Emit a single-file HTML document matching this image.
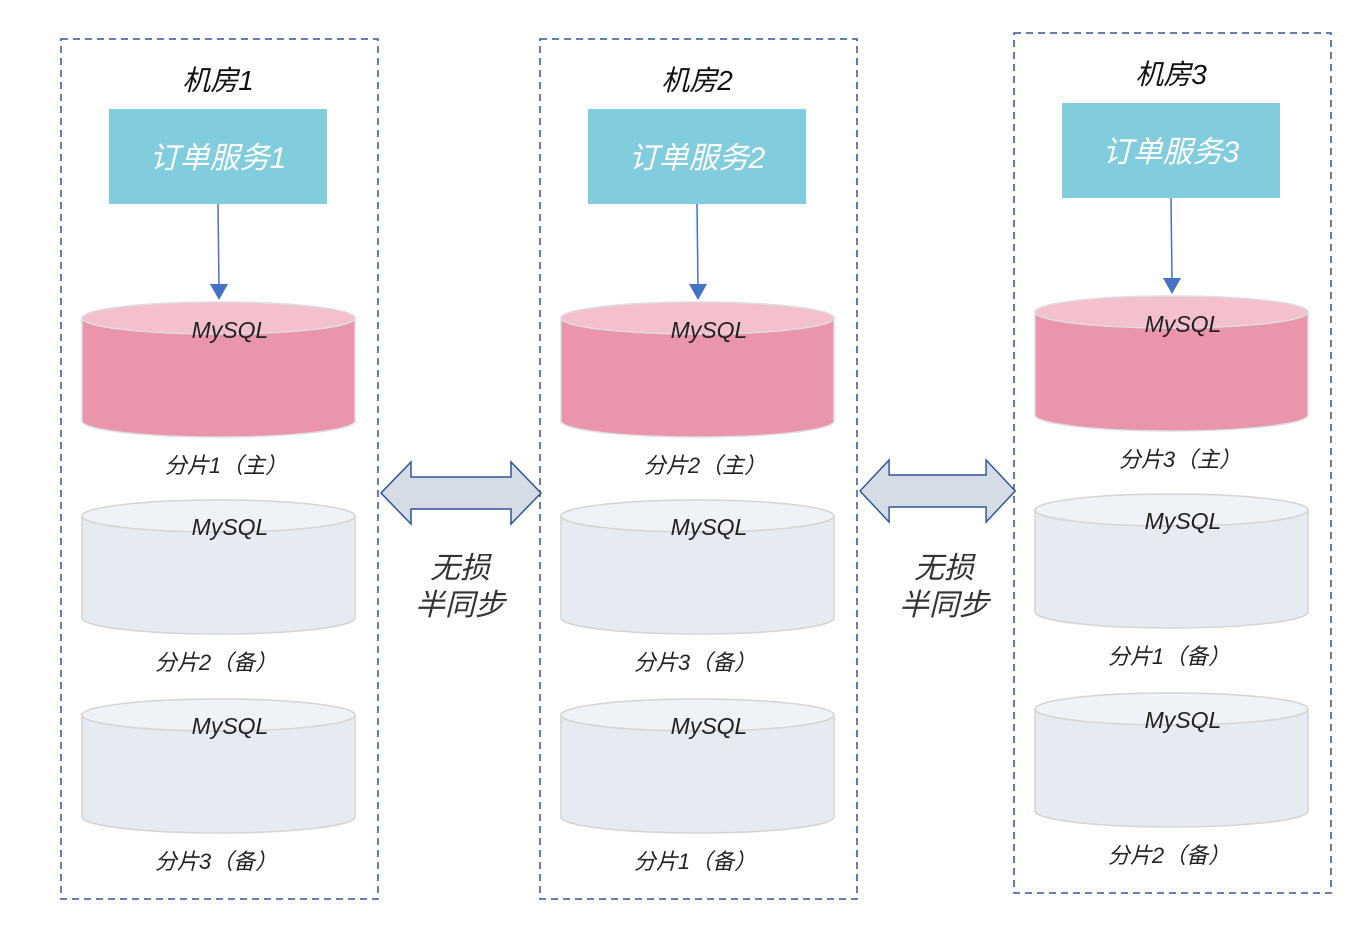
<!DOCTYPE html>
<html><head><meta charset="utf-8"><style>
html,body{margin:0;padding:0;background:#fff;}
svg text{font-family:"Liberation Sans","Noto Sans CJK SC",sans-serif;}
</style></head><body>
<svg width="1366" height="934" viewBox="0 0 1366 934" xmlns="http://www.w3.org/2000/svg">
<defs>
<g id="cylP">
  <path d="M82 318 L82 421 A136.5 16 0 0 0 355 421 L355 318 Z" fill="#ea95ab" stroke="#ddd" stroke-width="1.5"/>
  <ellipse cx="218.5" cy="318" rx="136.5" ry="16" fill="#f4c0cd" stroke="#ddd" stroke-width="1.5"/>
  <text x="230" y="338" font-size="23" font-style="italic" text-anchor="middle" fill="#222">MySQL</text>
</g>
<g id="cylG">
  <path d="M82 0 L82 102 A136.5 16 0 0 0 355 102 L355 0 Z" fill="#e6eaf1" stroke="#d4d4d4" stroke-width="1.5"/>
  <ellipse cx="218.5" cy="0" rx="136.5" ry="16" fill="#eff2f6" stroke="#d4d4d4" stroke-width="1.5"/>
  <text x="230" y="19" font-size="23" font-style="italic" text-anchor="middle" fill="#222">MySQL</text>
</g>
<g id="svc">
  <rect x="61" y="39" width="317" height="860" fill="none" stroke="#2f5597" stroke-width="1.5" stroke-dasharray="7,5"/>
  <rect x="109" y="109" width="218" height="95" fill="#82cddd"/>
  <line x1="218" y1="204" x2="219" y2="286" stroke="#4472c4" stroke-width="1.5"/>
  <polygon points="210,284 228,284 219,300" fill="#4472c4"/>
  <use href="#cylP"/>
  <use href="#cylG" y="516"/>
  <use href="#cylG" y="715"/>
</g>
<g id="dbl">
  <polygon points="0,0 30,-31 30,-16 130,-16 130,-31 160,0 130,31 130,16 30,16 30,31" fill="#d6dce5" stroke="#2f5597" stroke-width="1.5"/>
</g>
</defs>

<use href="#svc"/>
<use href="#svc" x="479"/>
<use href="#svc" x="953" y="-6"/>

<g font-size="28" font-style="italic" text-anchor="middle" fill="#111">
<text x="218" y="90">机房1</text>
<text x="697" y="90">机房2</text>
<text x="1171" y="84">机房3</text>
</g>
<g font-size="30" text-anchor="middle" fill="#fff" font-style="italic">
<text x="218" y="168">订单服务1</text>
<text x="697" y="168">订单服务2</text>
<text x="1171" y="162">订单服务3</text>
</g>
<g font-size="22" text-anchor="middle" fill="#222" font-style="italic">
<text x="226" y="473">分片1（主）</text>
<text x="216" y="670">分片2（备）</text>
<text x="216" y="869">分片3（备）</text>
<text x="705" y="473">分片2（主）</text>
<text x="695" y="670">分片3（备）</text>
<text x="695" y="869">分片1（备）</text>
<text x="1180" y="467">分片3（主）</text>
<text x="1169" y="664">分片1（备）</text>
<text x="1169" y="863">分片2（备）</text>
</g>

<use href="#dbl" x="381" y="493"/>
<g transform="translate(860,491) scale(0.97,1)"><use href="#dbl"/></g>

<g font-size="30" text-anchor="middle" fill="#333" font-style="italic">
<text x="460" y="578">无损</text>
<text x="460" y="615">半同步</text>
<text x="944" y="578">无损</text>
<text x="944" y="615">半同步</text>
</g>
</svg>
</body></html>
